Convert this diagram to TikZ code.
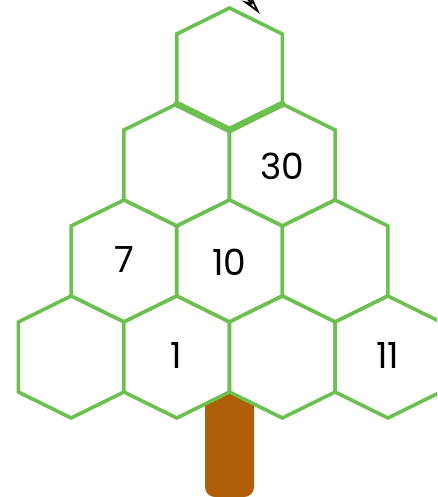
\documentclass[tikz,border=0pt]{standalone}
\usepackage{fontspec}
\setmainfont{Poppins}
\usetikzlibrary{arrows.meta}
\definecolor{hexgreen}{HTML}{6CC04F}
\definecolor{trunkbrown}{HTML}{B05E07}
\tikzset{
  hexcell/.style={draw=hexgreen, line width=3.6pt, fill=white, line join=miter},
  hexthick/.style={draw=hexgreen, line width=6.5pt, line cap=round},
  numlabel/.style={font=\fontsize{36}{40}\selectfont, text=black, inner sep=0pt},
  trunk/.style={fill=trunkbrown, rounded corners=10pt},
}
\begin{document}
\begin{tikzpicture}[x=1pt,y=-1pt]
\useasboundingbox (0,0) rectangle (437,497);
\clip (0,0) rectangle (437,497);
% trunk
\fill[trunk] (205,360) -- (205,497) -- (254,497) -- (254,360) -- cycle;
% hexagons
\foreach \cx/\cy in {229.5/69, 176.7/165, 282.3/165, 123.9/261, 229.5/261, 335.1/261, 71.1/357, 176.7/357, 282.3/357, 387.9/357}{
  \draw[hexcell] (\cx,\cy-61) -- (\cx+52.8,\cy-35) -- (\cx+52.8,\cy+35) -- (\cx,\cy+61) -- (\cx-52.8,\cy+35) -- (\cx-52.8,\cy-35) -- cycle;
}
% thick lower edges of the top cell
\coordinate (tl) at (176.7,104);
\coordinate (tb) at (229.5,130);
\coordinate (tr) at (282.3,104);
\draw[hexthick] (tl) -- (tb) -- (tr);
% numbers
\node[numlabel] (n30) at (282.3,166) {30};
\node[numlabel] (n7) at (123.9,260) {7};
\node[numlabel] (n10) at (229.5,262) {10};
\node[numlabel] (n1) at (176.7,355) {1};
\node[numlabel] (n11) at (387.9,355) {11};
% pointer tip at the top
\coordinate (ps) at (232,-20);
\coordinate (pe) at (260,14);
\draw[line width=1.8pt, -{Stealth[open, length=22pt, width=11pt]}] (ps) -- (pe);
\end{tikzpicture}
\end{document}
